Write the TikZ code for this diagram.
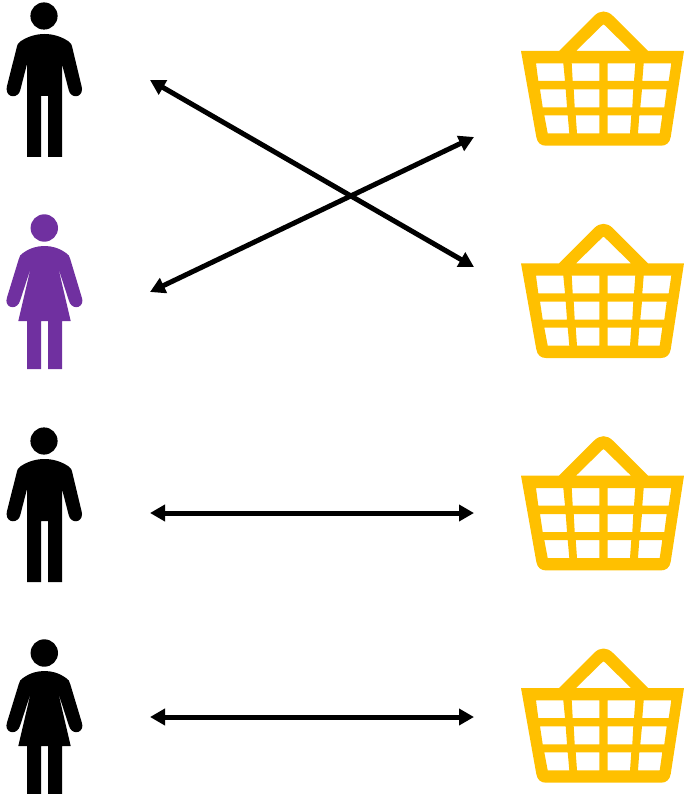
\documentclass[tikz,border=0pt]{standalone}
\usetikzlibrary{arrows.meta}
\definecolor{gold}{HTML}{FFC000}
\definecolor{violet}{HTML}{7030A0}
\tikzset{
  x=1pt,y=-1pt,
  link/.style={line width=5pt,{Triangle[length=15pt,width=16pt]}-{Triangle[length=15pt,width=16pt]}},
  man/.pic={\fill[pic actions] (44,16) circle[radius=13.6];
    \fill[pic actions] (27,157) -- (27,64) -- (20.3,90)
      .. controls (18.5,98.5) and (6.6,98.5) .. (6.6,89)
      .. controls (6.6,88) and (6.8,87) .. (7,86)
      -- (16.6,48) .. controls (17.2,44.5) and (18.5,42.5) .. (21,41)
      .. controls (28,36.5) and (36,34) .. (44.5,34)
      .. controls (53,34) and (61,36.5) .. (68,41)
      .. controls (70.5,42.5) and (71.8,44.5) .. (72.4,48)
      -- (81.5,86) .. controls (81.8,87) and (82,88) .. (82,89)
      .. controls (82,98.5) and (70.5,98.5) .. (68.7,90)
      -- (62,64) -- (62,157) -- (48,157) -- (48,96) -- (41,96) -- (41,157) -- cycle;},
  woman/.pic={\fill[pic actions] (44.3,16) circle[radius=13.7];
    \fill[pic actions] (27,157) -- (27,109) -- (18.3,109) -- (30.7,56) -- (20.3,88)
      .. controls (17.8,98) and (6.4,97) .. (6.4,88.5)
      .. controls (6.4,87.5) and (6.6,86.5) .. (7,85.5)
      -- (18.8,47) .. controls (19.5,44) and (20.5,42.5) .. (23,41)
      .. controls (30,36) and (37,34) .. (44.5,34)
      .. controls (52,34) and (59,36) .. (66,41)
      .. controls (68.5,42.5) and (69.5,44) .. (70.2,47)
      -- (81.8,85.5) .. controls (82.2,86.5) and (82.4,87.5) .. (82.4,88.5)
      .. controls (82.4,97) and (71,98) .. (68.7,88)
      -- (58.3,56) -- (70.7,109) -- (62,109) -- (62,157) -- (48,157) -- (48,109) -- (41,109) -- (41,157) -- cycle;},
  basket/.pic={\fill[gold,even odd rule]
      (521,51) -- (559,51) -- (594,16) .. controls (600,10) and (607,10) .. (613,16) -- (648,51) -- (684,51)
      -- (670.7,137) .. controls (669.7,143) and (666,145.7) .. (661,145.7) -- (546,145.7)
      .. controls (541,145.7) and (537.3,143) .. (536.3,137) -- cycle
      (576,51) -- (602,25.5) .. controls (603,24) and (604,24) .. (605,25.5) -- (631,51) -- cycle
      (536,63.3) -- (563.3,63.3) -- (565,81) -- (538.3,81) -- cycle
      (571.7,63.3) -- (599.3,63.3) -- (599.3,81) -- (572.7,81) -- cycle
      (607.7,63.3) -- (635.3,63.3) -- (634,81) -- (607.7,81) -- cycle
      (643.7,63.3) -- (671.3,63.3) -- (668.7,81) -- (642.3,81) -- cycle
      (540,89.3) -- (565.7,89.3) -- (567,107.3) -- (542.7,107.3) -- cycle
      (573.7,89.3) -- (599.3,89.3) -- (599.3,107.3) -- (574.7,107.3) -- cycle
      (607.7,89.3) -- (633.3,89.3) -- (632.3,107.3) -- (607.7,107.3) -- cycle
      (642,89.3) -- (666.7,89.3) -- (664.3,107.3) -- (640.3,107.3) -- cycle
      (544.3,115.3) -- (567.7,115.3) -- (569.3,133.3) -- (547.7,133.3) -- cycle
      (575.7,115.3) -- (599.3,115.3) -- (599.3,133.3) -- (577,133.3) -- cycle
      (607.7,115.3) -- (631.3,115.3) -- (630,133.3) -- (607.7,133.3) -- cycle
      (639.3,115.3) -- (662.3,115.3) -- (659.7,133.3) -- (638,133.3) -- cycle;}
}
\begin{document}
\begin{tikzpicture}
\useasboundingbox (0,0) rectangle (684,794);
\pic[black] (p1) at (0,0) {man};
\pic[violet] (p2) at (0,212) {woman};
\pic[black] (p3) at (0,425) {man};
\pic[black] (p4) at (0,637) {woman};
\pic (b1) at (0,0) {basket};
\pic (b2) at (0,212.3) {basket};
\pic (b3) at (0,424.7) {basket};
\pic (b4) at (0,637) {basket};
\coordinate (a1) at (150,80);
\coordinate (c2) at (474,267);
\coordinate (a2) at (150,292);
\coordinate (c1) at (474,137);
\coordinate (a3) at (150,513);
\coordinate (c3) at (474,513);
\coordinate (a4) at (150,717);
\coordinate (c4) at (474,717);
\draw[link] (a1) -- (c2);
\draw[link] (a2) -- (c1);
\draw[link] (a3) -- (c3);
\draw[link] (a4) -- (c4);
\end{tikzpicture}
\end{document}
